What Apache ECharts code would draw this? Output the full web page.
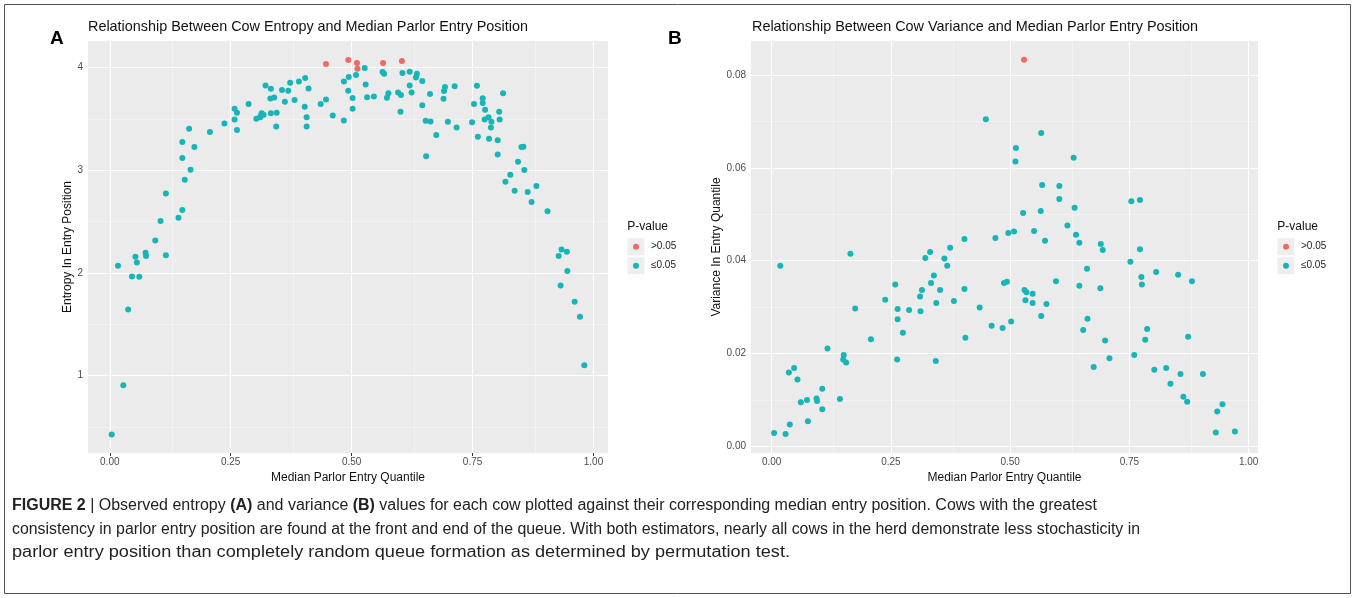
<!DOCTYPE html>
<html>
<head>
<meta charset="utf-8">
<script src="https://cdn.jsdelivr.net/npm/echarts@6/dist/echarts.min.js"></script>
<style>
  html, body { margin: 0; padding: 0; background: #ffffff; }
  #chart { width: 1355px; height: 598px; }
</style>
</head>
<body>
<div id="chart"></div>
<script>
// ---- Panel A: entropy of entry position vs median parlor entry quantile ----
const entropyHighX = [0.447, 0.493, 0.511, 0.512, 0.565, 0.604];
const entropyHighY = [4.035, 4.074, 4.045, 3.990, 4.045, 4.064];

const entropyLowX = [
  0.494, 0.484, 0.493, 0.322, 0.333, 0.356, 0.369, 0.373, 0.391, 0.404,
  0.411, 0.332, 0.340, 0.362, 0.382, 0.403, 0.436, 0.447, 0.287, 0.258,
  0.263, 0.258, 0.237, 0.207, 0.263, 0.303, 0.311, 0.314, 0.318, 0.312,
  0.333, 0.345, 0.344, 0.407, 0.407, 0.461, 0.484, 0.164, 0.150, 0.175,
  0.150, 0.167, 0.155, 0.116, 0.150, 0.142, 0.105, 0.094, 0.053, 0.074,
  0.075, 0.116, 0.056, 0.017, 0.046, 0.061, 0.038, 0.028, 0.004, 0.527,
  0.509, 0.502, 0.502, 0.529, 0.532, 0.546, 0.564, 0.567, 0.605, 0.620,
  0.635, 0.633, 0.646, 0.620, 0.624, 0.576, 0.573, 0.596, 0.602, 0.601,
  0.646, 0.653, 0.663, 0.662, 0.675, 0.654, 0.690, 0.691, 0.693, 0.713,
  0.699, 0.717, 0.749, 0.759, 0.753, 0.771, 0.771, 0.776, 0.783, 0.775,
  0.789, 0.788, 0.761, 0.784, 0.802, 0.802, 0.805, 0.806, 0.813, 0.851,
  0.855, 0.844, 0.857, 0.828, 0.818, 0.837, 0.864, 0.882, 0.872, 0.905,
  0.934, 0.945, 0.928, 0.946, 0.932, 0.961, 0.972, 0.981
];
const entropyLowY = [
  3.910, 3.866, 3.775, 3.827, 3.795, 3.782, 3.775, 3.853, 3.866, 3.899,
  3.798, 3.700, 3.710, 3.668, 3.684, 3.619, 3.645, 3.691, 3.645, 3.600,
  3.560, 3.496, 3.457, 3.372, 3.392, 3.502, 3.516, 3.555, 3.541, 3.528,
  3.555, 3.560, 3.428, 3.518, 3.428, 3.535, 3.486, 3.405, 3.275, 3.226,
  3.119, 3.005, 2.907, 2.775, 2.612, 2.537, 2.505, 2.317, 2.157, 2.196,
  2.164, 2.171, 2.102, 2.069, 1.966, 1.962, 1.644, 0.906, 0.425, 3.996,
  3.928, 3.704, 3.600, 3.837, 3.713, 3.720, 3.957, 3.941, 3.947, 3.960,
  3.941, 3.905, 3.869, 3.827, 3.759, 3.752, 3.707, 3.759, 3.733, 3.570,
  3.635, 3.482, 3.476, 3.743, 3.343, 3.138, 3.697, 3.772, 3.811, 3.818,
  3.473, 3.418, 3.467, 3.824, 3.645, 3.701, 3.655, 3.590, 3.516, 3.496,
  3.473, 3.418, 3.327, 3.307, 3.294, 3.155, 3.570, 3.496, 3.752, 3.226,
  3.229, 3.083, 3.002, 2.956, 2.888, 2.800, 2.788, 2.846, 2.690, 2.602,
  2.229, 2.206, 2.164, 2.018, 1.878, 1.718, 1.572, 1.101
];

// ---- Panel B: variance of entry quantile vs median parlor entry quantile ----
const varianceHighX = [0.529];
const varianceHighY = [0.0833];

const varianceLowX = [
  0.165, 0.322, 0.332, 0.362, 0.374, 0.404, 0.449, 0.565, 0.512, 0.511,
  0.633, 0.567, 0.603, 0.603, 0.754, 0.772, 0.527, 0.564, 0.635, 0.620,
  0.638, 0.645, 0.690, 0.694, 0.772, 0.469, 0.496, 0.508, 0.550, 0.573,
  0.005, 0.029, 0.038, 0.076, 0.036, 0.047, 0.054, 0.061, 0.074, 0.094,
  0.095, 0.106, 0.106, 0.117, 0.143, 0.151, 0.150, 0.156, 0.018, 0.175,
  0.208, 0.238, 0.259, 0.264, 0.264, 0.275, 0.263, 0.288, 0.312, 0.311,
  0.315, 0.334, 0.340, 0.345, 0.353, 0.368, 0.382, 0.404, 0.406, 0.344,
  0.436, 0.461, 0.484, 0.502, 0.487, 0.493, 0.530, 0.534, 0.532, 0.547,
  0.547, 0.576, 0.565, 0.596, 0.752, 0.661, 0.645, 0.689, 0.662, 0.653,
  0.699, 0.708, 0.675, 0.775, 0.776, 0.806, 0.852, 0.881, 0.787, 0.783,
  0.873, 0.760, 0.802, 0.827, 0.857, 0.904, 0.836, 0.863, 0.871, 0.945,
  0.934, 0.931, 0.971
];
const varianceLowY = [
  0.0415, 0.0406, 0.0419, 0.0405, 0.0428, 0.0447, 0.0705, 0.0675, 0.0643, 0.0614,
  0.0622, 0.0563, 0.0561, 0.0533, 0.0528, 0.0531, 0.0503, 0.0507, 0.0514, 0.0476,
  0.0456, 0.0439, 0.0436, 0.0423, 0.0425, 0.0449, 0.0460, 0.0463, 0.0464, 0.0443,
  0.0029, 0.0027, 0.0047, 0.0054, 0.0159, 0.0169, 0.0144, 0.0095, 0.0100, 0.0103,
  0.0098, 0.0080, 0.0124, 0.0211, 0.0102, 0.0197, 0.0187, 0.0181, 0.0389, 0.0297,
  0.0231, 0.0316, 0.0349, 0.0296, 0.0274, 0.0245, 0.0187, 0.0294, 0.0291, 0.0323,
  0.0337, 0.0352, 0.0368, 0.0309, 0.0337, 0.0389, 0.0313, 0.0339, 0.0234, 0.0184,
  0.0299, 0.0260, 0.0255, 0.0269, 0.0352, 0.0355, 0.0337, 0.0332, 0.0315, 0.0329,
  0.0309, 0.0307, 0.0281, 0.0356, 0.0398, 0.0383, 0.0346, 0.0341, 0.0275, 0.0251,
  0.0228, 0.0190, 0.0171, 0.0365, 0.0349, 0.0376, 0.0370, 0.0356, 0.0253, 0.0230,
  0.0236, 0.0197, 0.0165, 0.0169, 0.0156, 0.0156, 0.0135, 0.0107, 0.0096, 0.0091,
  0.0075, 0.0030, 0.0032
];

// ---- Axis breaks ----
const quantileTicks = [0, 0.25, 0.5, 0.75, 1];
const quantileMinor = [0.125, 0.375, 0.625, 0.875];
const entropyTicks = [1, 2, 3, 4];
const entropyMinor = [0.5, 1.5, 2.5, 3.5];
const varianceTicks = [0, 0.02, 0.04, 0.06, 0.08];
const varianceMinor = [0.01, 0.03, 0.05, 0.07];

const legendLabels = ['>0.05', '\u22640.05'];

const captionLines = [
  '{b|FIGURE 2} | Observed entropy {b|(A)} and variance {b|(B)} values for each cow plotted against their corresponding median entry position. Cows with the greatest',
  'consistency in parlor entry position are found at the front and end of the queue. With both estimators, nearly all cows in the herd demonstrate less stochasticity in',
  'parlor entry position than completely random queue formation as determined by permutation test.'
];

// ---- Styling ----
const FONT = '"Liberation Sans", Arial, sans-serif';
const CAPTION_FONT = '"Liberation Sans Narrow", "Liberation Sans", Arial, sans-serif';
const RED = '#EE6B62';
const TEAL = '#17B5B8';
const PANEL_BG = '#EBEBEB';

function pairs(xs, ys) { return xs.map((x, i) => [x, ys[i]]); }

// white ggplot-style grid lines drawn through the axis scales, beneath the points
function gridLines(idx, xMajor, xMinor, yMajor, yMinor) {
  const major = { color: '#ffffff', width: 1.1, type: 'solid' };
  const minor = { color: '#F6F6F6', width: 0.6, type: 'solid' };
  return {
    type: 'scatter', xAxisIndex: idx, yAxisIndex: idx, data: [], silent: true, z: 1,
    markLine: {
      silent: true, z: 1, symbol: ['none', 'none'], label: { show: false }, animation: false,
      emphasis: { disabled: true },
      data: [].concat(
        xMinor.map(v => ({ xAxis: v, lineStyle: minor })),
        yMinor.map(v => ({ yAxis: v, lineStyle: minor })),
        xMajor.map(v => ({ xAxis: v, lineStyle: major })),
        yMajor.map(v => ({ yAxis: v, lineStyle: major }))
      )
    }
  };
}

function xAxisCfg(idx, min, max) {
  return {
    gridIndex: idx, type: 'value', min: min, max: max,
    axisLine: { show: false },
    axisTick: { show: true, length: 3, customValues: quantileTicks, lineStyle: { color: '#333333', width: 1 } },
    axisLabel: { customValues: quantileTicks, formatter: v => v.toFixed(2), color: '#4D4D4D', fontSize: 10, margin: 4, fontFamily: FONT },
    splitLine: { show: false },
    name: 'Median Parlor Entry Quantile', nameLocation: 'middle', nameGap: 16,
    nameTextStyle: { color: '#111111', fontSize: 12, fontFamily: FONT }
  };
}

function yAxisCfg(idx, min, max, ticks, fmt, name, gap) {
  return {
    gridIndex: idx, type: 'value', min: min, max: max,
    axisLine: { show: false },
    axisTick: { show: true, length: 3, customValues: ticks, lineStyle: { color: '#333333', width: 1 } },
    axisLabel: { customValues: ticks, formatter: fmt, color: '#4D4D4D', fontSize: 10, margin: 5, fontFamily: FONT },
    splitLine: { show: false },
    name: name, nameLocation: 'middle', nameGap: gap,
    nameTextStyle: { color: '#111111', fontSize: 12, fontFamily: FONT }
  };
}

function legendCfg(left) {
  return {
    data: legendLabels, orient: 'vertical', left: left + 6, top: 240.7, padding: 0,
    itemWidth: 6, itemHeight: 6, itemGap: 7, icon: 'circle', selectedMode: false,
    itemStyle: { opacity: 1 },
    textStyle: { fontSize: 10, lineHeight: 12, color: '#222222', fontFamily: FONT, padding: [0, 0, 0, 7] }
  };
}

function legendKeys(left) {
  return [
    { type: 'text', x: left + 0.3, y: 226.7, z: 5,
      style: { text: 'P-value', fontSize: 12, fontFamily: FONT, fill: '#111111', verticalAlign: 'middle' } },
    { type: 'rect', z: 1, shape: { x: left + 0.5, y: 238.2, width: 17, height: 17 }, style: { fill: '#EEEEEE' } },
    { type: 'rect', z: 1, shape: { x: left + 0.5, y: 257.2, width: 17, height: 17 }, style: { fill: '#EEEEEE' } }
  ];
}

// caption: each line is stretched to the width of its column line
const CAPTION_SIZE = 16;
const captionRight = [1097, 1140, 790];
const captionY = [506, 529.5, 553];
const measureCtx = document.createElement('canvas').getContext('2d');
function plainWidth(line) {
  const parts = line.split(/(\{b\|[^}]*\})/);
  let w = 0;
  parts.forEach(p => {
    const m = p.match(/^\{b\|([^}]*)\}$/);
    measureCtx.font = (m ? 'bold ' : '') + CAPTION_SIZE + 'px ' + CAPTION_FONT;
    w += measureCtx.measureText(m ? m[1] : p).width;
  });
  return w;
}
const captionGraphics = captionLines.map((line, i) => ({
  type: 'text', x: 12, y: captionY[i], scaleX: (captionRight[i] - 12) / plainWidth(line), z: 5,
  style: {
    text: line, fontSize: CAPTION_SIZE, fontFamily: CAPTION_FONT, fill: '#222222', verticalAlign: 'middle',
    rich: { b: { fontWeight: 'bold', fontSize: CAPTION_SIZE, fontFamily: CAPTION_FONT, fill: '#222222' } }
  }
}));

const chart = echarts.init(document.getElementById('chart'), null, { renderer: 'canvas', width: 1355, height: 598 });

const pointStyle = color => ({ color: color, opacity: 1, borderWidth: 0 });

chart.setOption({
  animation: false,
  backgroundColor: '#ffffff',
  title: [
    { text: 'Relationship Between Cow Entropy and Median Parlor Entry Position', left: 88, top: 20, padding: 0,
      textStyle: { fontSize: 14.4, fontWeight: 'normal', color: '#111111', fontFamily: FONT } },
    { text: 'Relationship Between Cow Variance and Median Parlor Entry Position', left: 752, top: 20, padding: 0,
      textStyle: { fontSize: 14.4, fontWeight: 'normal', color: '#111111', fontFamily: FONT } },
    { text: 'A', left: 50, top: 29, padding: 0, textStyle: { fontSize: 19, fontWeight: 'bold', color: '#000000', fontFamily: FONT } },
    { text: 'B', left: 668, top: 29, padding: 0, textStyle: { fontSize: 19, fontWeight: 'bold', color: '#000000', fontFamily: FONT } }
  ],
  grid: [
    { left: 88, top: 41, width: 520, height: 412, show: true, backgroundColor: PANEL_BG, borderWidth: 0, outerBoundsMode: 'none' },
    { left: 751, top: 41, width: 507, height: 412, show: true, backgroundColor: PANEL_BG, borderWidth: 0, outerBoundsMode: 'none' }
  ],
  xAxis: [xAxisCfg(0, -0.045, 1.03), xAxisCfg(1, -0.0434, 1.0195)],
  yAxis: [
    yAxisCfg(0, 0.245, 4.26, entropyTicks, v => String(v), 'Entropy In Entry Position', 13),
    yAxisCfg(1, -0.00142, 0.08734, varianceTicks, v => v.toFixed(2), 'Variance In Entry Quantile', 27)
  ],
  legend: [legendCfg(627), legendCfg(1277)],
  graphic: [].concat(
    legendKeys(627),
    legendKeys(1277),
    captionGraphics,
    [{ type: 'rect', z: 0, shape: { x: 4.5, y: 4.5, width: 1346, height: 589 },
       style: { fill: 'none', stroke: '#555555', lineWidth: 1 } }]
  ),
  series: [
    gridLines(0, quantileTicks, quantileMinor, entropyTicks, entropyMinor),
    gridLines(1, quantileTicks, quantileMinor, varianceTicks, varianceMinor),
    { name: legendLabels[1], type: 'scatter', xAxisIndex: 0, yAxisIndex: 0, symbolSize: 6, z: 3,
      itemStyle: pointStyle(TEAL), emphasis: { disabled: true }, data: pairs(entropyLowX, entropyLowY) },
    { name: legendLabels[0], type: 'scatter', xAxisIndex: 0, yAxisIndex: 0, symbolSize: 6, z: 3,
      itemStyle: pointStyle(RED), emphasis: { disabled: true }, data: pairs(entropyHighX, entropyHighY) },
    { name: legendLabels[1], type: 'scatter', xAxisIndex: 1, yAxisIndex: 1, symbolSize: 6, z: 3,
      itemStyle: pointStyle(TEAL), emphasis: { disabled: true }, data: pairs(varianceLowX, varianceLowY) },
    { name: legendLabels[0], type: 'scatter', xAxisIndex: 1, yAxisIndex: 1, symbolSize: 6, z: 3,
      itemStyle: pointStyle(RED), emphasis: { disabled: true }, data: pairs(varianceHighX, varianceHighY) }
  ]
});
</script>
</body>
</html>
